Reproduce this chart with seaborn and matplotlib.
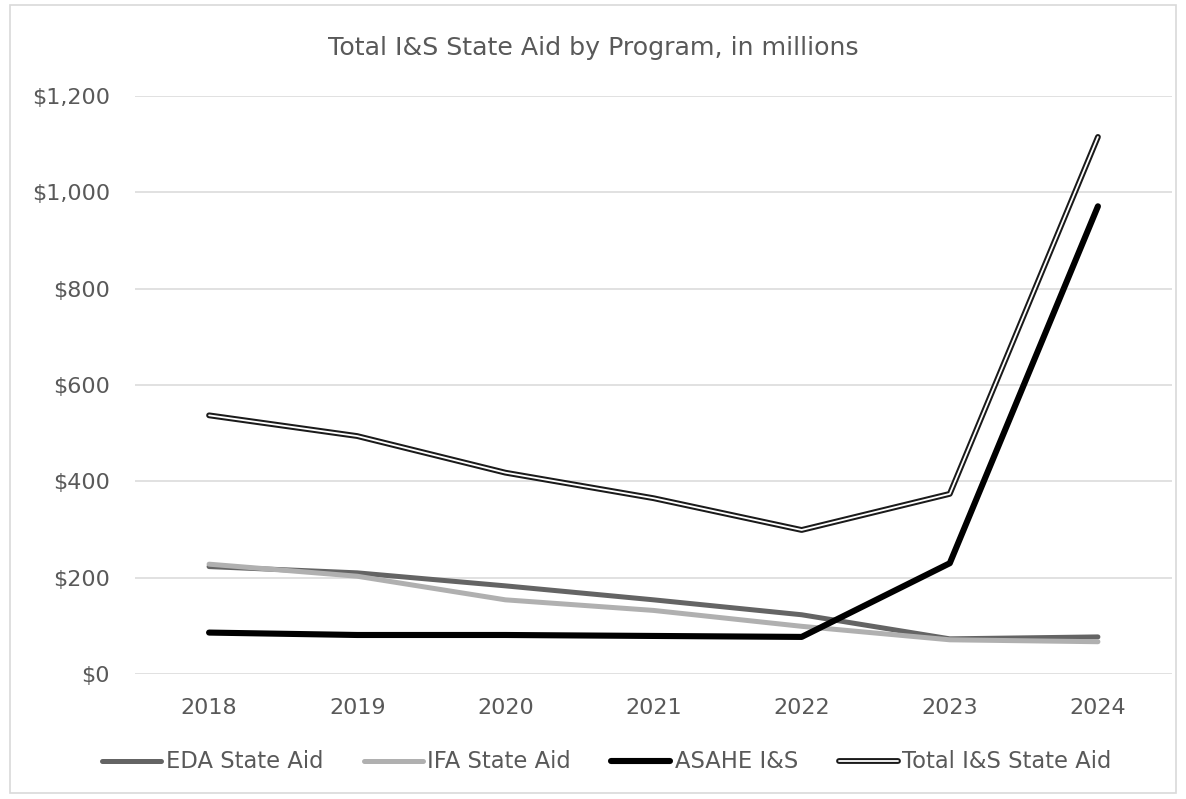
import matplotlib
matplotlib.use("Agg")
import matplotlib.pyplot as plt
import matplotlib.patheffects as pe
from matplotlib.patches import Rectangle
from matplotlib.ticker import FuncFormatter, MultipleLocator
import pandas as pd
import seaborn as sns

# I&S state aid by program, in millions of dollars
years = ["2018", "2019", "2020", "2021", "2022", "2023", "2024"]
eda_state_aid = [223, 210, 183, 154, 123, 73, 77]
ifa_state_aid = [228, 203, 154, 132, 99, 71, 67]
asahe_is = [86, 81, 81, 79, 77, 230, 971]
total_is_state_aid = [537, 494, 418, 365, 299, 374, 1115]

series_names = ["EDA State Aid", "IFA State Aid", "ASAHE I&S", "Total I&S State Aid"]
series_values = [eda_state_aid, ifa_state_aid, asahe_is, total_is_state_aid]

df = pd.concat(
    [pd.DataFrame({"year": years, "value": vals, "program": name})
     for name, vals in zip(series_names, series_values)],
    ignore_index=True,
)

sns.set_theme(style="white")
plt.rcParams["font.family"] = ["DejaVu Sans"]
text_color = "#595959"
grid_color = "#D9D9D9"

fig = plt.figure(figsize=(11.86, 7.99), dpi=100)
ax = fig.add_axes([135 / 1186, 1 - 674 / 799, (1172 - 135) / 1186, (674 - 96) / 799])

styles = {
    "EDA State Aid": dict(color="#646464", linewidth=3.6),
    "IFA State Aid": dict(color="#B0B0B0", linewidth=3.6),
    "ASAHE I&S": dict(color="#000000", linewidth=4.4),
    "Total I&S State Aid": dict(
        color="white", linewidth=1.3,
        path_effects=[pe.Stroke(linewidth=4.2, foreground="#1a1a1a"), pe.Normal()],
    ),
}

for name in series_names:
    sub = df[df["program"] == name]
    sns.lineplot(data=sub, x="year", y="value", ax=ax, label=name,
                 solid_capstyle="round", solid_joinstyle="round",
                 **styles[name])

ax.set_xlim(-0.5, len(years) - 0.5)
ax.set_ylim(0, 1200)
ax.yaxis.set_major_locator(MultipleLocator(200))
ax.yaxis.set_major_formatter(FuncFormatter(lambda v, p: f"${v:,.0f}"))
ax.grid(axis="y", color=grid_color, linewidth=1.1)
ax.grid(axis="x", visible=False)
ax.set_axisbelow(True)
for s in ax.spines.values():
    s.set_visible(False)
ax.set_xlabel("")
ax.set_ylabel("")
ax.tick_params(axis="y", length=0, pad=18, labelsize=16, labelcolor=text_color)
ax.tick_params(axis="x", length=0, pad=17, labelsize=16, labelcolor=text_color)

fig.text(0.5, 1 - 48 / 799, "Total I&S State Aid by Program, in millions",
         ha="center", va="center", fontsize=18.2, color=text_color)

leg = ax.legend(loc="center", bbox_to_anchor=(0.455, (674 - 762) / (674 - 96)),
                ncol=4, frameon=False, fontsize=16.3, handlelength=2.6,
                handletextpad=0.2, columnspacing=1.8, labelcolor=text_color)

fig.patches.append(Rectangle((10 / 1186, 1 - 793 / 799), 1166 / 1186, 788 / 799,
                             transform=fig.transFigure, fill=False,
                             edgecolor=grid_color, linewidth=1.2))

fig.savefig("out.png", dpi=100)
